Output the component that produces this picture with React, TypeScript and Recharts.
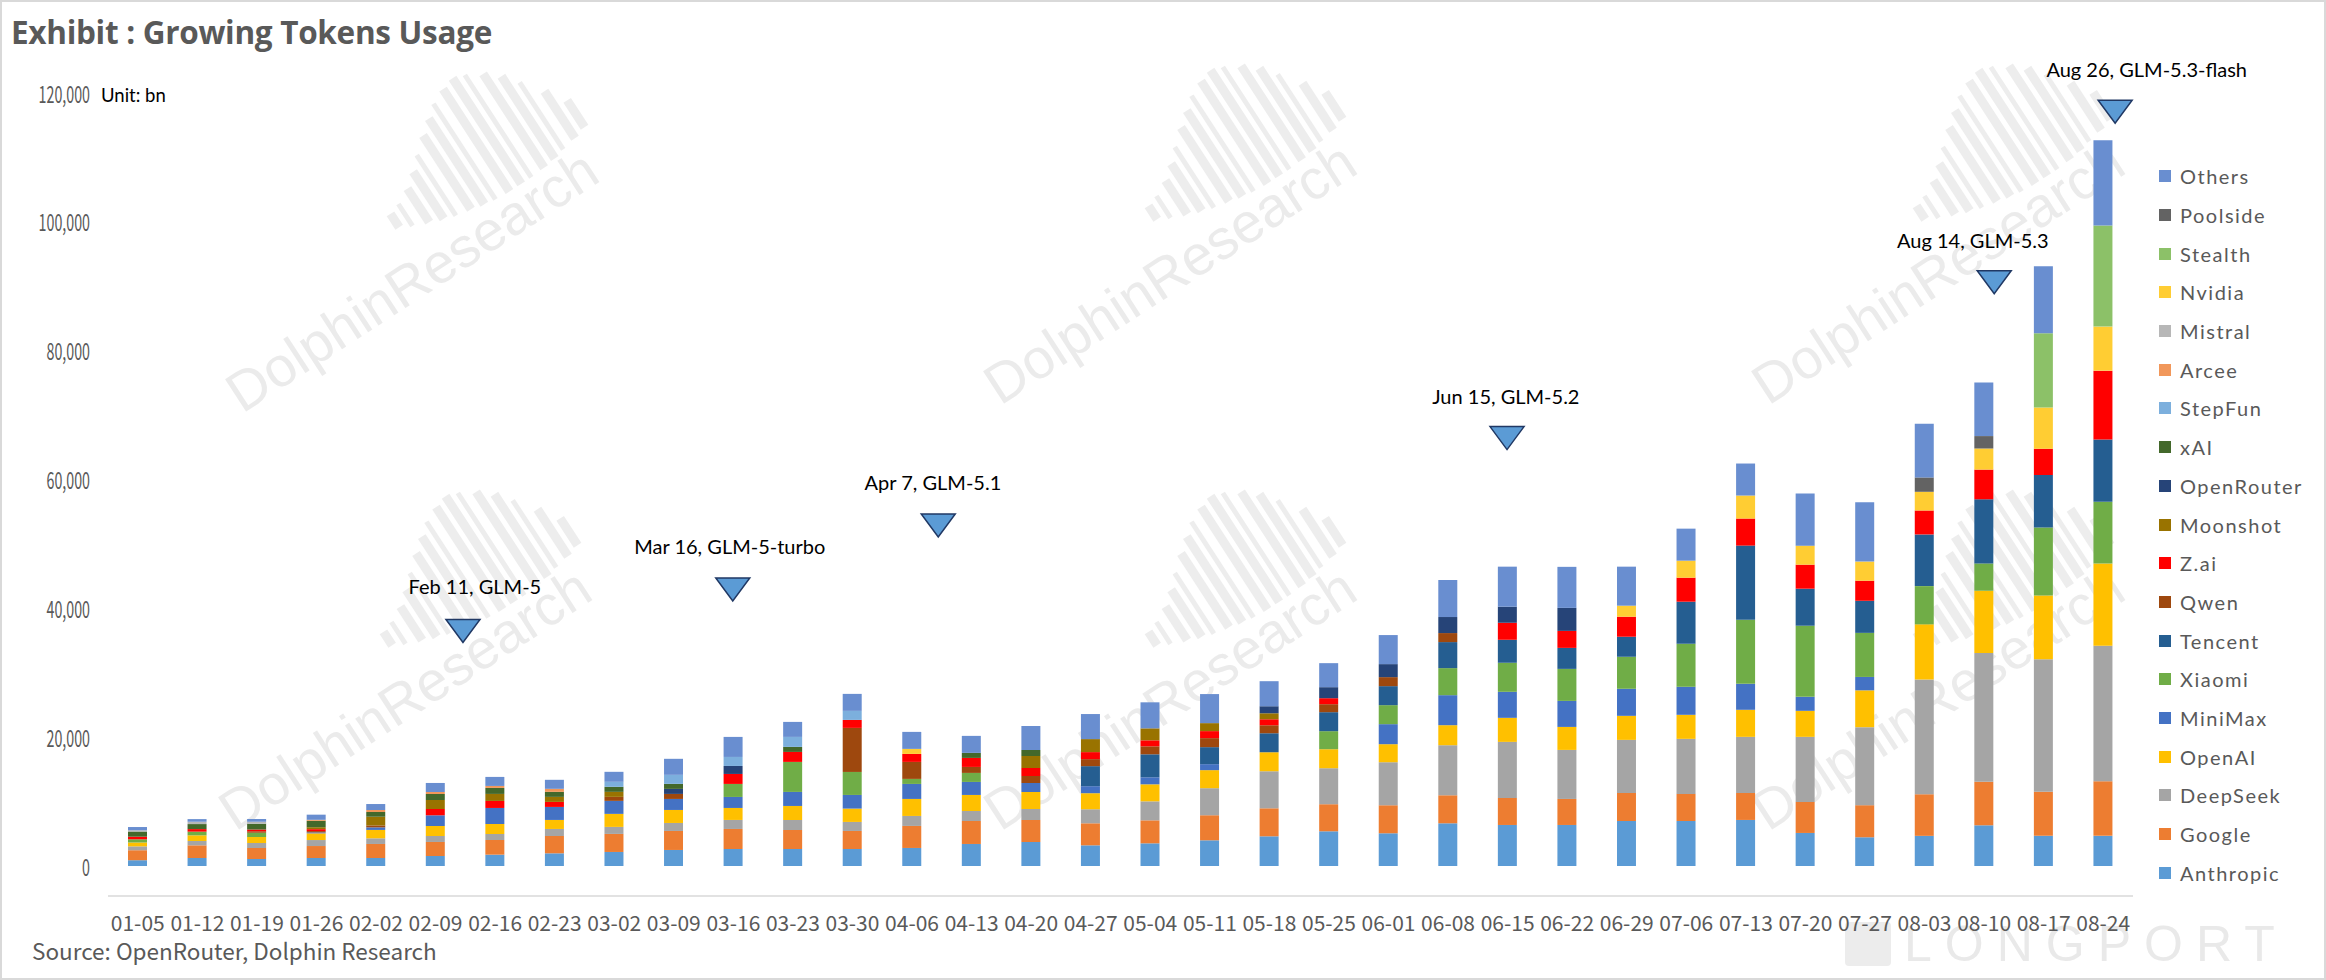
import React from 'react';
import { ComposedChart, Bar, XAxis, YAxis, Legend, ReferenceDot } from 'recharts';

// ---------------- data ----------------
const categories = [
  '01-05', '01-12', '01-19', '01-26', '02-02', '02-09', '02-16', '02-23',
  '03-02', '03-09', '03-16', '03-23', '03-30', '04-06', '04-13', '04-20',
  '04-27', '05-04', '05-11', '05-18', '05-25', '06-01', '06-08', '06-15',
  '06-22', '06-29', '07-06', '07-13', '07-20', '07-27', '08-03', '08-10',
  '08-17', '08-24',
];

const anthropic = [900, 1240, 1090, 1240, 1240, 1550, 1760, 1970, 2180, 2490, 2640, 2640, 2640, 2800, 3420, 3730, 3210, 3520, 3990, 4610, 5390, 5080, 6630, 6370, 6370, 6990, 6990, 7150, 5130, 4460, 4680, 6320, 4680, 4680];
const google = [1550, 1970, 1710, 1860, 2180, 2180, 2280, 2690, 2800, 2950, 3110, 2950, 2800, 3420, 3570, 3420, 3420, 3570, 3890, 4350, 4200, 4350, 4350, 4200, 4040, 4350, 4200, 4200, 4820, 4980, 6460, 6760, 6840, 8470];
const deepseek = [600, 670, 780, 930, 880, 930, 930, 1090, 1090, 1240, 1400, 1550, 1400, 1550, 1550, 1710, 2180, 2950, 4200, 5750, 5590, 6680, 7770, 8700, 7610, 8240, 8550, 8700, 10100, 12110, 17830, 19990, 20580, 21030];
const openai = [600, 880, 930, 1040, 1300, 1550, 1550, 1400, 2020, 2020, 1860, 2180, 2070, 2640, 2490, 2640, 2490, 2640, 2800, 2950, 2950, 2800, 3110, 3730, 3570, 3730, 3730, 4200, 4040, 5720, 8540, 9660, 9880, 12780];
const minimax = [0, 0, 0, 150, 400, 1660, 2490, 2020, 2020, 1710, 1710, 2180, 2120, 2330, 2020, 1400, 1090, 1090, 930, 0, 0, 3110, 4660, 4040, 4040, 4200, 4350, 4040, 2180, 2080, 0, 0, 0, 0];
const xiaomi = [500, 570, 670, 0, 0, 0, 0, 0, 0, 0, 2020, 4660, 3570, 780, 1400, 0, 0, 0, 0, 0, 2800, 2950, 4200, 4510, 4970, 4970, 6680, 9950, 11030, 6840, 5940, 4240, 10550, 9580];
const tencent = [0, 0, 0, 0, 0, 0, 0, 0, 0, 0, 0, 0, 0, 0, 0, 0, 3110, 3570, 2640, 2950, 2950, 2950, 4040, 3570, 3260, 3110, 6530, 11500, 5750, 4980, 8020, 9960, 8170, 9660];
const qwen = [0, 0, 200, 200, 300, 0, 0, 0, 620, 780, 0, 0, 6840, 2640, 930, 1090, 1090, 1240, 1400, 1240, 1240, 1400, 1400, 0, 0, 0, 0, 0, 0, 0, 0, 0, 0, 0];
const zai = [400, 400, 300, 300, 0, 980, 1090, 780, 0, 0, 1550, 1550, 1240, 1240, 1400, 1240, 1090, 930, 1090, 930, 930, 0, 0, 2640, 2640, 3110, 3730, 4200, 3730, 3120, 3720, 4610, 4090, 10700];
const moonshot = [0, 0, 0, 300, 1350, 1400, 1090, 780, 780, 0, 0, 0, 0, 0, 0, 1860, 2020, 1860, 1240, 930, 0, 0, 0, 0, 0, 0, 0, 0, 0, 0, 0, 0, 0, 0];
const openrouter = [0, 0, 0, 0, 0, 0, 0, 0, 0, 780, 1240, 0, 0, 0, 0, 0, 0, 0, 0, 1090, 1710, 2020, 2490, 2490, 3570, 0, 0, 0, 0, 0, 0, 0, 0, 0];
const xai = [800, 780, 880, 1000, 730, 930, 930, 780, 780, 780, 0, 780, 0, 0, 780, 930, 0, 0, 0, 0, 0, 0, 0, 0, 0, 0, 0, 0, 0, 0, 0, 0, 0, 0];
const stepfun = [0, 0, 0, 0, 0, 0, 0, 0, 780, 1400, 1400, 1550, 1400, 0, 0, 0, 0, 0, 0, 0, 0, 0, 0, 0, 0, 0, 0, 0, 0, 0, 0, 0, 0, 0];
const arcee = [0, 0, 0, 150, 310, 310, 310, 470, 0, 0, 0, 0, 0, 0, 0, 0, 0, 0, 0, 0, 0, 0, 0, 0, 0, 0, 0, 0, 0, 0, 0, 0, 0, 0];
const mistral = [200, 360, 310, 0, 0, 0, 0, 0, 0, 0, 0, 0, 0, 0, 0, 0, 0, 0, 0, 0, 0, 0, 0, 0, 0, 0, 0, 0, 0, 0, 0, 0, 0, 0];
const nvidia = [0, 0, 0, 0, 0, 0, 0, 0, 0, 0, 0, 0, 0, 780, 0, 0, 0, 0, 0, 0, 0, 0, 0, 0, 0, 1710, 2640, 3570, 2950, 2970, 2900, 3270, 6390, 6840];
const stealth = [0, 0, 0, 0, 0, 0, 0, 0, 0, 0, 0, 0, 0, 0, 0, 0, 0, 0, 0, 0, 0, 0, 0, 0, 0, 0, 0, 0, 0, 0, 0, 0, 11520, 15680];
const poolside = [0, 0, 0, 0, 0, 0, 0, 0, 0, 0, 0, 0, 0, 0, 0, 0, 0, 0, 0, 0, 0, 0, 0, 0, 0, 0, 0, 0, 0, 0, 2230, 1930, 0, 0];
const others = [500, 410, 410, 800, 930, 1400, 1400, 1400, 1550, 2490, 3110, 2330, 2640, 2640, 2640, 3730, 3890, 4040, 4510, 3890, 3730, 4510, 5750, 6220, 6370, 6060, 4970, 4970, 8080, 9210, 8320, 8320, 10400, 13230];

const seriesNames = [
  'Anthropic', 'Google', 'DeepSeek', 'OpenAI', 'MiniMax', 'Xiaomi', 'Tencent', 'Qwen', 'Z.ai',
  'Moonshot', 'OpenRouter', 'xAI', 'StepFun', 'Arcee', 'Mistral', 'Nvidia', 'Stealth', 'Poolside', 'Others',
];
const seriesValues = [
  anthropic, google, deepseek, openai, minimax, xiaomi, tencent, qwen, zai,
  moonshot, openrouter, xai, stepfun, arcee, mistral, nvidia, stealth, poolside, others,
];

const yTicks = [0, 20000, 40000, 60000, 80000, 100000, 120000];

// annotations: label, marker position (category index, value), label anchor (category index, value)
const annotationLabels = ['Feb 11, GLM-5', 'Mar 16, GLM-5-turbo', 'Apr 7, GLM-5.1', 'Jun 15, GLM-5.2', 'Aug 14, GLM-5.3', 'Aug 26, GLM-5.3-flash'];
const markerPos = [5.46, 9.99, 13.44, 22.99, 31.17, 33.2];
const markerValue = [36500, 42940, 52850, 66430, 90620, 117100];
const labelPos = [5.66, 9.94, 13.35, 22.97, 30.81, 33.73];
const labelValue = [43510, 49740, 59640, 72990, 97220, 123670];

// ---------------- styles ----------------
const COLORS: Record<string, string> = {
  Anthropic: '#5B9BD5', Google: '#ED7D31', DeepSeek: '#A5A5A5', OpenAI: '#FFC000', MiniMax: '#4472C4',
  Xiaomi: '#70AD47', Tencent: '#255E91', Qwen: '#9E480E', 'Z.ai': '#FF0000', Moonshot: '#997300',
  OpenRouter: '#264478', xAI: '#43682B', StepFun: '#7CAFDD', Arcee: '#F1975A', Mistral: '#B7B7B7',
  Nvidia: '#FFCD33', Stealth: '#8CC168', Poolside: '#636363', Others: '#698ED0',
};

const TICK_FONT = '"Noto Sans CJK SC", "Noto Sans", sans-serif';
const LABEL_FONT = 'Lato, "Noto Sans", sans-serif';

const rows = categories.map((week, i) => {
  const r: Record<string, string | number> = { week, pos: i };
  seriesNames.forEach((n, k) => {
    r[n] = seriesValues[k][i];
  });
  return r;
});

const YTick = (p: any) => {
  const { x, y, payload } = p;
  return (
    <text
      transform={`translate(${x},${y}) scale(0.62,1)`}
      textAnchor="end"
      dominantBaseline="central"
      fontSize={23}
      fontFamily={TICK_FONT}
      fill="#595959"
    >
      {Number(payload.value).toLocaleString('en-US')}
    </text>
  );
};

const Triangle = (p: any) => {
  const { cx, cy } = p;
  const w = 34;
  const h = 23;
  return (
    <path
      d={`M${cx - w / 2},${cy - h / 2} L${cx + w / 2},${cy - h / 2} L${cx},${cy + h / 2} Z`}
      fill="#5B9BD5"
      stroke="#203864"
      strokeWidth={1.5}
    />
  );
};

const makeLabel = (text: string) => (p: any) => (
  <text
    x={p.cx}
    y={p.cy}
    textAnchor="middle"
    dominantBaseline="central"
    fontSize={20}
    fontFamily={LABEL_FONT}
    fill="#000"
  >
    {text}
  </text>
);

const LegendContent = (props: any) => {
  const payload = [...(props.payload || [])].sort(
    (a: any, b: any) => seriesNames.indexOf(b.value) - seriesNames.indexOf(a.value),
  );
  return (
    <div style={{ fontFamily: LABEL_FONT, fontSize: 20, color: '#595959' }}>
      {payload.map((it: any) => (
        <div key={it.value} style={{ display: 'flex', alignItems: 'center', height: 38.7 }}>
          <span style={{ display: 'inline-block', width: 12, height: 12, background: it.color, marginRight: 9 }} />
          <span style={{ letterSpacing: 1.5 }}>{it.value}</span>
        </div>
      ))}
    </div>
  );
};

// decorative watermark (Dolphin Research logo + name), drawn behind the chart
const watermarkSpots = [
  [410, 279], [1168, 271], [1936, 271],
  [403, 697], [1168, 697], [1936, 697],
];
const stripeHeights = [16, 26, 40, 56, 72, 88, 102, 114, 122, 126, 122, 112, 98, 80, 56, 32];

const Watermark = ({ x, y }: { x: number; y: number }) => (
  <div
    style={{
      position: 'absolute',
      left: x - 240,
      top: y - 35,
      width: 480,
      height: 70,
      transform: 'rotate(-33deg)',
    }}
  >
    {stripeHeights.map((h, i) => {
      const arc = Math.pow((i - 9) / 9, 2) * 30;
      return (
        <div
          key={i}
          style={{
            position: 'absolute',
            left: 240 + 14 + i * 14,
            top: 35 - 22 - arc - h,
            width: i % 3 === 1 ? 5 : 9,
            height: h,
            background: '#ededed',
          }}
        />
      );
    })}
    <div
      style={{
        position: 'absolute',
        left: 0,
        top: 0,
        width: 480,
        textAlign: 'center',
        fontFamily: '"Liberation Sans", Arial, sans-serif',
        fontSize: 56,
        lineHeight: '70px',
        color: '#ebebeb',
        whiteSpace: 'nowrap',
      }}
    >
      DolphinResearch
    </div>
  </div>
);

export default function App() {
  return (
    <div
      style={{
        position: 'relative',
        width: 2326,
        height: 980,
        background: '#fff',
        boxSizing: 'border-box',
        border: '2px solid #d9d9d9',
        overflow: 'hidden',
      }}
    >
      <style>{'body{margin:0;}'}</style>
      <div style={{ position: 'absolute', left: 0, top: 0, width: 2326, height: 980, zIndex: 0 }}>
        {watermarkSpots.map(([x, y], i) => (
          <Watermark key={i} x={x} y={y} />
        ))}
        <div
          style={{
            position: 'absolute',
            left: 1843,
            top: 920,
            width: 46,
            height: 44,
            borderRadius: 4,
            background: '#ececec',
          }}
        />
        <div
          style={{
            position: 'absolute',
            left: 1902,
            top: 913,
            fontFamily: '"Liberation Sans", Arial, sans-serif',
            fontSize: 50,
            lineHeight: '58px',
            letterSpacing: 13,
            color: '#e9e9e9',
          }}
        >
          LONGPORT
        </div>
      </div>

      <div
        style={{
          position: 'absolute',
          left: 9,
          top: 8,
          fontFamily: '"Open Sans", sans-serif',
          fontWeight: 700,
          fontSize: 31.5,
          lineHeight: '44px',
          color: '#595959',
          letterSpacing: -0.3,
          zIndex: 2,
        }}
      >
        Exhibit : Growing Tokens Usage
      </div>
      <div
        style={{
          position: 'absolute',
          left: 99,
          top: 80,
          fontFamily: LABEL_FONT,
          fontSize: 18.5,
          lineHeight: '26px',
          color: '#000',
          zIndex: 2,
        }}
      >
        Unit: bn
      </div>
      <div
        style={{
          position: 'absolute',
          left: 30,
          top: 933,
          fontFamily: TICK_FONT,
          fontSize: 22.5,
          lineHeight: '30px',
          color: '#595959',
          zIndex: 2,
        }}
      >
        Source: OpenRouter, Dolphin Research
      </div>

      <div style={{ position: 'absolute', left: -2, top: -2, zIndex: 1 }}>
        <ComposedChart
          width={2326}
          height={980}
          data={rows}
          margin={{ top: 93, right: 193, bottom: 74, left: 8 }}
        >
          <XAxis
            xAxisId="cat"
            dataKey="week"
            interval={0}
            tickLine={false}
            axisLine={{ stroke: '#d9d9d9', strokeWidth: 1.5 }}
            tick={{ fontSize: 21, fill: '#595959', fontFamily: TICK_FONT }}
            tickMargin={14}
            height={40}
          />
          <XAxis xAxisId="ann" dataKey="pos" type="number" domain={[-0.5, 33.5]} allowDataOverflow hide />
          <YAxis
            yAxisId="v"
            domain={[0, 120000]}
            ticks={yTicks}
            axisLine={false}
            tickLine={false}
            tickMargin={12}
            width={100}
            tick={<YTick />}
          />
          {seriesNames.map((n) => (
            <Bar
              key={n}
              dataKey={n}
              name={n}
              stackId="s"
              xAxisId="cat"
              yAxisId="v"
              fill={COLORS[n]}
              barSize={19}
              isAnimationActive={false}
            />
          ))}
          <Legend
            layout="vertical"
            align="center"
            verticalAlign="middle"
            content={<LegendContent />}
            wrapperStyle={{ position: 'absolute', left: 2159, top: 157, width: 165, height: 740 }}
          />
          {annotationLabels.map((t, i) => (
            <ReferenceDot
              key={'m' + i}
              xAxisId="ann"
              yAxisId="v"
              x={markerPos[i]}
              y={markerValue[i]}
              ifOverflow="visible"
              shape={Triangle}
            />
          ))}
          {annotationLabels.map((t, i) => (
            <ReferenceDot
              key={'l' + i}
              xAxisId="ann"
              yAxisId="v"
              x={labelPos[i]}
              y={labelValue[i]}
              ifOverflow="visible"
              shape={makeLabel(t)}
            />
          ))}
        </ComposedChart>
      </div>
    </div>
  );
}
